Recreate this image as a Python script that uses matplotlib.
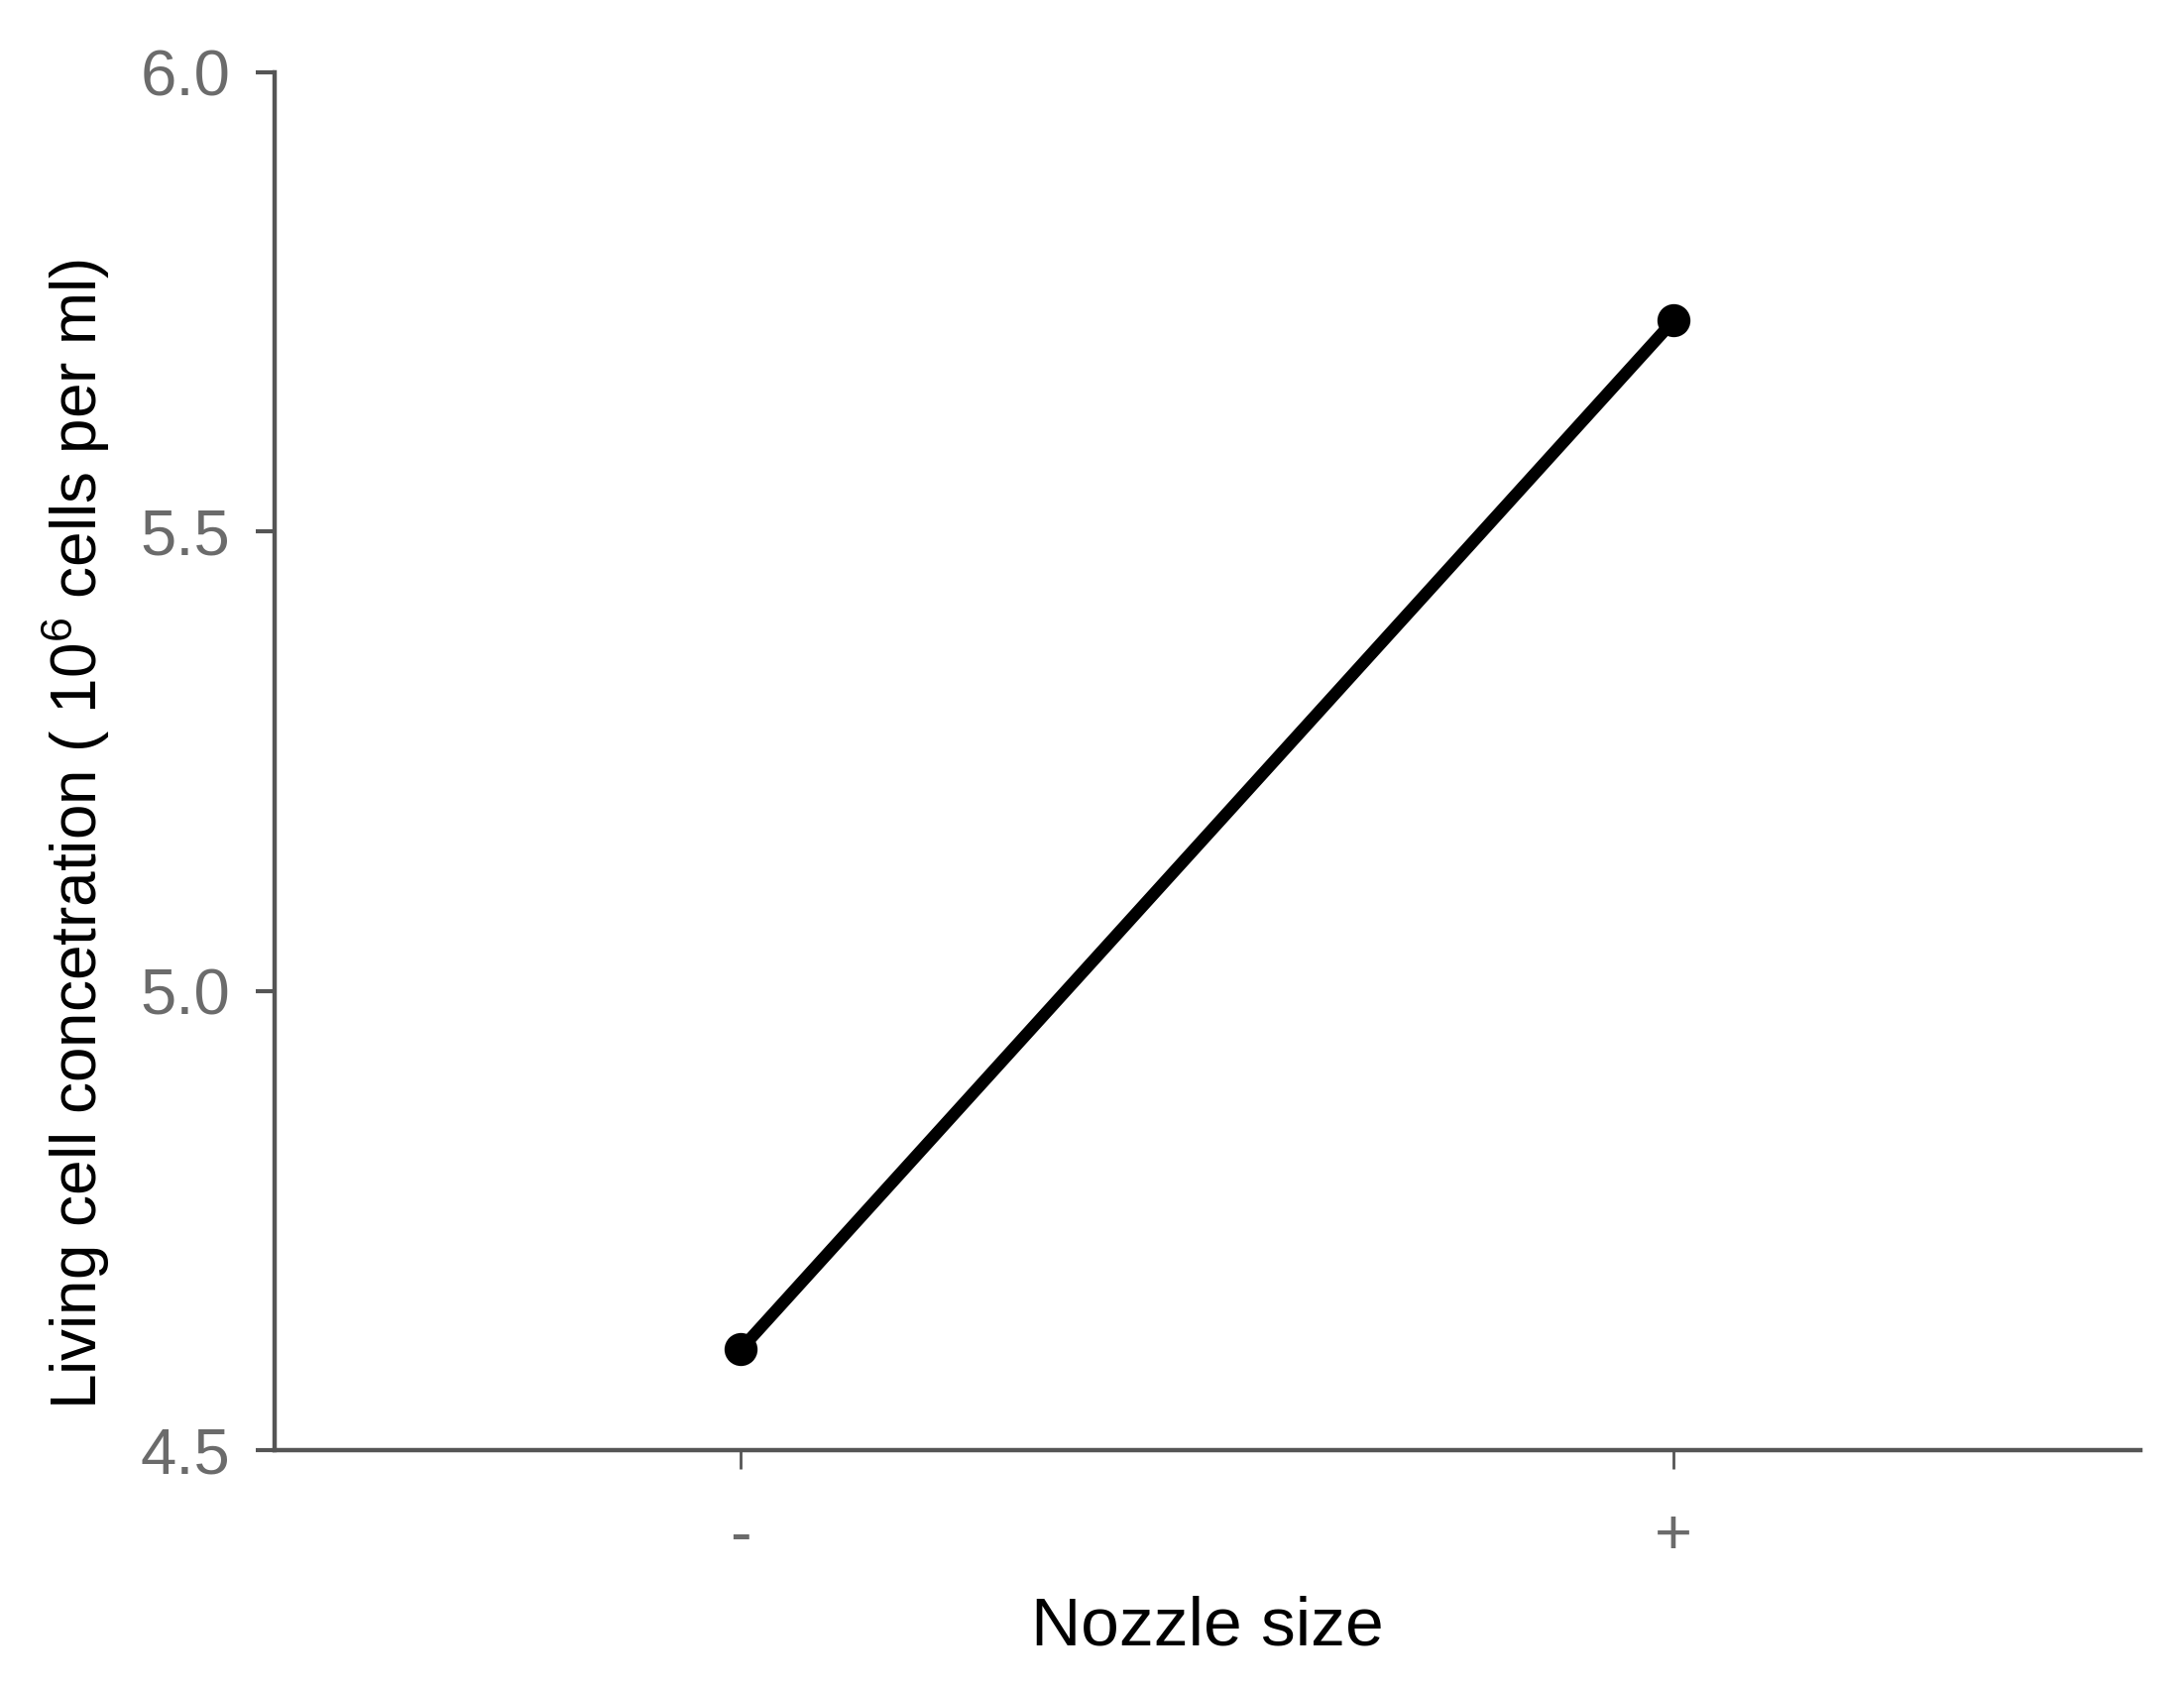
import matplotlib.pyplot as plt

# данные
nozzle = ['-', '+']
conc = [4.61, 5.73]
y_ticks = [4.5, 5.0, 5.5, 6.0]

plt.rcParams['font.family'] = ['Liberation Sans', 'DejaVu Sans']
plt.rcParams['mathtext.fontset'] = 'custom'
plt.rcParams['mathtext.rm'] = 'Liberation Sans'

spine_col = '#555555'
tick_col = '#6b6b6b'

fig = plt.figure(figsize=(11.015, 8.52), dpi=200)
ax = fig.add_axes([0.1257, 0.1414, 0.8543, 0.8158])

x = list(range(len(nozzle)))
ax.plot(x, conc, color='black', lw=4.4, marker='o', ms=11, solid_capstyle='round')

ax.set_xlim(-0.5, 1.5)
ax.set_ylim(4.5, 6.0)
ax.set_yticks(y_ticks)
ax.set_yticklabels([f'{v:.1f}' for v in y_ticks])
ax.set_xticks(x)
ax.set_xticklabels(nozzle)

for s in ['top', 'right']:
    ax.spines[s].set_visible(False)
for s in ['left', 'bottom']:
    ax.spines[s].set_color(spine_col)
    ax.spines[s].set_linewidth(1.6)

ax.tick_params(axis='y', direction='out', length=7, width=1.5, color=spine_col,
               labelsize=23.5, labelcolor=tick_col, pad=9)
ax.tick_params(axis='x', direction='out', length=7, width=1.0, color=spine_col,
               labelsize=23.5, labelcolor=tick_col, pad=14)

ax.set_xlabel('Nozzle size', fontsize=25)
ax.xaxis.set_label_coords(0.5, -0.105)
ax.set_ylabel('Living cell concetration ( 10$^{6}$ cells per ml)', fontsize=23)
ax.yaxis.set_label_coords(-0.087, 0.447)

fig.savefig('out.png', dpi=200, facecolor='white')
